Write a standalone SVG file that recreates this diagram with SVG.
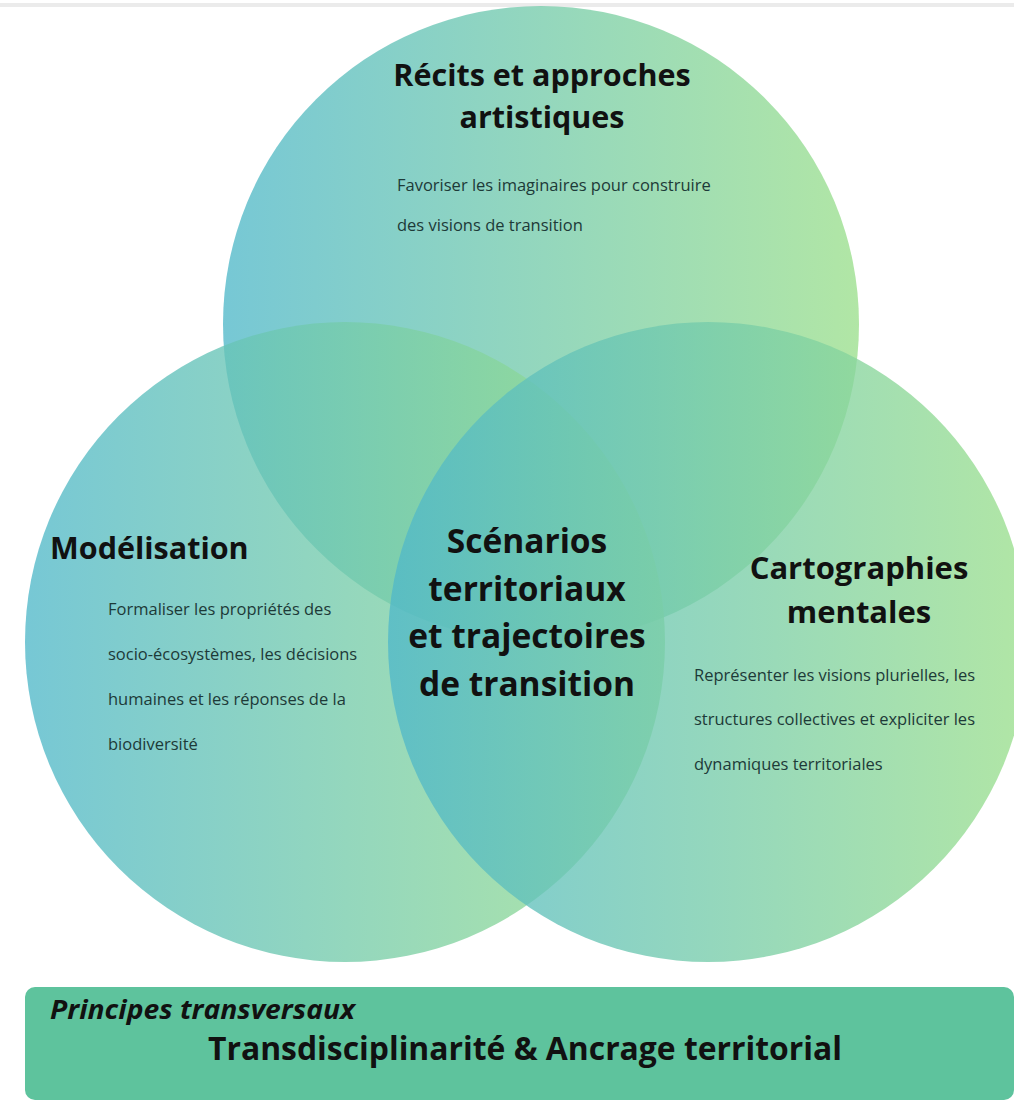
<svg xmlns="http://www.w3.org/2000/svg" width="1014" height="1112" viewBox="0 0 1014 1112">
  <defs>
    <linearGradient id="g" x1="0" y1="0" x2="1" y2="0">
      <stop offset="0" stop-color="#50b8c9"/>
      <stop offset="1" stop-color="#9bdf8c"/>
    </linearGradient>
    <style>
      .c { fill: url(#g); opacity: 0.78; }
      .t { font-family: "Open Sans", "Noto Sans", sans-serif; font-weight: 700; fill: #111; text-anchor: middle; }
      .s { text-anchor: start; }
      .b { font-family: "Open Sans", "Noto Sans", sans-serif; font-size: 16.5px; fill: #1d3a38; }
    </style>
  </defs>
  <rect x="0" y="0" width="1014" height="1112" fill="#ffffff"/>
  <rect x="0" y="3" width="1014" height="4" fill="#ebebeb"/>

  <g id="circle-recits">
    <circle class="c" cx="541" cy="324" r="318"/>
  </g>
  <g id="circle-modelisation">
    <circle class="c" cx="345" cy="642" r="320"/>
  </g>
  <g id="circle-cartographies">
    <circle class="c" cx="708" cy="642" r="320"/>
  </g>

  <g id="connectors"></g>

  <g id="label-recits">
    <text class="t" x="542" y="86" font-size="30.5">Récits et approches</text>
    <text class="t" x="542" y="128" font-size="30.5">artistiques</text>
    <text class="b" x="397" y="191">Favoriser les imaginaires pour construire</text>
    <text class="b" x="397" y="231">des visions de transition</text>
  </g>
  <g id="label-modelisation">
    <text class="t s" x="50" y="559" font-size="30.5">Modélisation</text>
    <text class="b" x="108" y="615">Formaliser les propriétés des</text>
    <text class="b" x="108" y="660">socio-écosystèmes, les décisions</text>
    <text class="b" x="108" y="705">humaines et les réponses de la</text>
    <text class="b" x="108" y="750">biodiversité</text>
  </g>
  <g id="label-cartographies">
    <text class="t" x="859" y="579" font-size="31">Cartographies</text>
    <text class="t" x="859" y="623" font-size="31">mentales</text>
    <text class="b" x="694" y="681">Représenter les visions plurielles, les</text>
    <text class="b" x="694" y="725">structures collectives et expliciter les</text>
    <text class="b" x="694" y="770">dynamiques territoriales</text>
  </g>
  <g id="label-scenarios">
    <text class="t" x="527" y="553" font-size="33.5">Scénarios</text>
    <text class="t" x="527" y="601" font-size="33.5">territoriaux</text>
    <text class="t" x="527" y="648" font-size="33.5">et trajectoires</text>
    <text class="t" x="527" y="696" font-size="33.5">de transition</text>
  </g>

  <g id="principes">
    <rect x="25" y="987" width="989" height="113" rx="10" fill="#5ec39d"/>
    <text x="50" y="1019" font-family="Open Sans, Noto Sans, sans-serif" font-size="27" font-weight="700" font-style="italic" fill="#111" textLength="305" lengthAdjust="spacingAndGlyphs">Principes transversaux</text>
    <text class="t" x="525" y="1060" font-size="31.5" textLength="634" lengthAdjust="spacingAndGlyphs">Transdisciplinarité &amp; Ancrage territorial</text>
  </g>
</svg>
